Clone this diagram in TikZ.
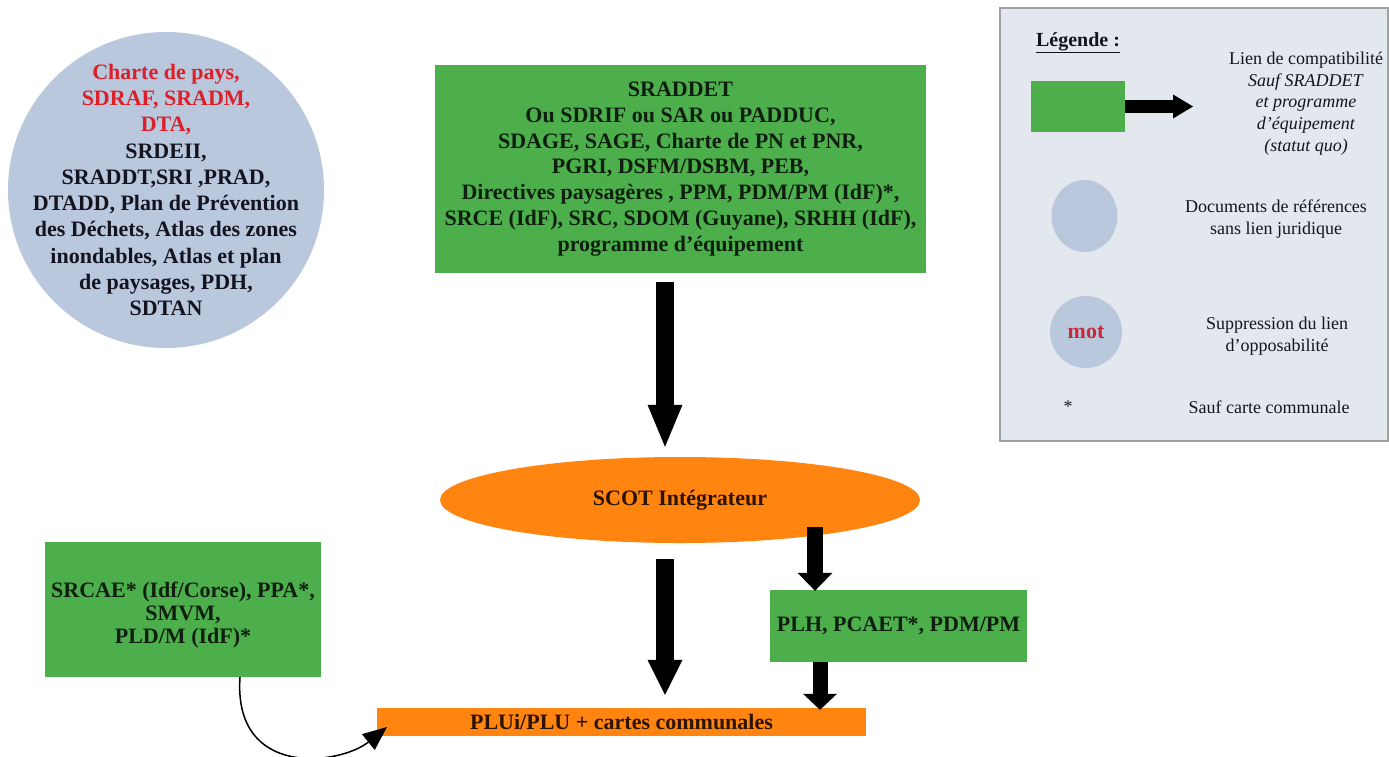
\documentclass[tikz,border=0pt]{standalone}
\usepackage{fontspec}
\setmainfont{Liberation Serif}[BoldFont={Liberation Serif Bold},ItalicFont={Liberation Serif Italic},BoldItalicFont={Liberation Serif Bold Italic}]
\usetikzlibrary{arrows.meta,shapes.geometric}
\definecolor{boxgreen}{HTML}{4DAE4C}
\definecolor{scotorange}{HTML}{FF8410}
\definecolor{refblue}{HTML}{B9C8DD}
\definecolor{legbg}{HTML}{E3E8EF}
\definecolor{legborder}{HTML}{A0A0A0}
\definecolor{txtred}{HTML}{DD1F2A}
\definecolor{motred}{HTML}{C8283C}
\definecolor{txtdark}{HTML}{141420}
\definecolor{txtgreen}{HTML}{0F1F0F}
\definecolor{txtbrown}{HTML}{2B1300}
\begin{document}
\begin{tikzpicture}[x=1pt,y=-1pt,
  bigtxt/.style={font=\fontsize{22}{#1}\selectfont\bfseries, align=center},
  bigtxt/.default=25.8,
  legtxt/.style={font=\fontsize{18}{21.7}\selectfont, text=txtdark, align=center},
  greenbox/.style={rectangle, fill=boxgreen, inner sep=0pt, text=txtgreen},
  orangebox/.style={fill=scotorange, inner sep=0pt, text=txtbrown},
  blockarrow/.style n args={3}{draw=black, line width=#1pt,
     -{Triangle[width=#2pt,length=#3pt,line width=0pt]}},
  thinarrow/.style={draw=black, line width=1.5pt, -{Triangle[width=20pt,length=24pt]}}
]
\useasboundingbox[fill=white] (0,0) rectangle (1389,757);

% reference documents circle
\node[circle, fill=refblue, minimum size=316pt, inner sep=0pt] (refcirc) at (166,190) {};
\node[bigtxt=26.3, text=txtdark] (refcirctxt) at (refcirc.center)
  {\textcolor{txtred}{Charte de pays,}\\
   \textcolor{txtred}{SDRAF, SRADM,}\\
   \textcolor{txtred}{DTA,}\\
   SRDEII,\\
   SRADDT,SRI ,PRAD,\\
   DTADD, Plan de Prévention\\
   des Déchets, Atlas des zones\\
   inondables, Atlas et plan\\
   de paysages, PDH,\\
   SDTAN};

% SRADDET box
\node[greenbox, minimum width=491pt, minimum height=208pt, bigtxt] (sraddet) at (680.5,169)
  {SRADDET\\
   Ou SDRIF ou SAR ou PADDUC,\\
   SDAGE, SAGE, Charte de PN et PNR,\\
   PGRI, DSFM/DSBM, PEB,\\
   Directives paysagères , PPM, PDM/PM (IdF)*,\\
   SRCE (IdF), SRC, SDOM (Guyane), SRHH (IdF),\\
   programme d’équipement};

% SCOT
\node[ellipse, orangebox, minimum width=480pt, minimum height=86pt, bigtxt] (scot) at (680,500)
  {SCOT Intégrateur};

% PLH box
\node[greenbox, minimum width=257pt, minimum height=72pt, bigtxt] (plh) at (898.5,626)
  {PLH, PCAET*, PDM/PM};

% PLU bar
\node[rectangle, orangebox, minimum width=489pt, minimum height=28pt, bigtxt] (plu) at (621.5,722)
  {PLUi/PLU + cartes communales};

% SRCAE box
\node[greenbox, minimum width=276pt, minimum height=135pt] (srcae) at (183,609.5) {};
\node[bigtxt=23, text=txtgreen] (srcaetxt) at ([yshift=-6pt]srcae.center)
  {SRCAE* (Idf/Corse), PPA*,\\SMVM,\\PLD/M (IdF)*};

% arrows
\coordinate (c1) at (665,0);
\coordinate (c3) at (815,527);
\coordinate (c4) at (820,0);
\coordinate (c5) at (240,0);
\coordinate (cend) at (387,727);

\draw[blockarrow={18}{35}{42}, shorten <=9pt, shorten >=10pt]
  (sraddet.south -| c1) -- (scot.north -| c1);
\draw[blockarrow={18}{35}{35}, shorten <=16pt, shorten >=13pt]
  (scot.south -| c1) -- (plu.north -| c1);
\draw[blockarrow={16}{35}{18}, shorten >=-1pt]
  (c3) -- (plh.north -| c3);
\draw[blockarrow={15}{34}{16}, shorten >=-2pt]
  (plh.south -| c4) -- (plu.north -| c4);
\draw[thinarrow] (srcae.south -| c5) .. controls +(-7,102) and +(-47,38) .. (cend);

% legend
\node[rectangle, fill=legbg, draw=legborder, line width=1.5pt, minimum width=388pt,
      minimum height=433pt, inner sep=0pt] (legend) at (1194,224.5) {};
\node[font=\fontsize{20}{20}\selectfont\bfseries, text=txtdark] (legtitle) at (1078,43)
  {\underline{Légende :}};
\node[greenbox, minimum width=94pt, minimum height=51pt] (lgreen) at (1078,106.5) {};
\coordinate (ltip) at (1193,106);
\draw[blockarrow={13}{24}{20}] (lgreen.east) -- (lgreen.east -| ltip);
\node[legtxt] (legcompat) at (1306,103.5)
  {Lien de compatibilité\\
   \textit{Sauf SRADDET}\\
   \textit{et programme}\\
   \textit{d’équipement}\\
   \textit{(statut quo)}};

\node[ellipse, fill=refblue, minimum width=66pt, minimum height=72pt, inner sep=0pt] (lblue) at (1084.5,216) {};
\node[legtxt] (legref) at (1276,219)
  {Documents de références\\sans lien juridique};

\node[circle, fill=refblue, minimum size=72pt, inner sep=0pt,
      font=\fontsize{22}{22}\selectfont\bfseries, text=motred] (lmot) at (1086,332) {mot};
\node[legtxt] (legsupp) at (1277,336)
  {Suppression du lien\\d’opposabilité};

\node[legtxt] (legstar) at (1068,407) {*};
\node[legtxt] (legcarte) at (1269,407) {Sauf carte communale};

\end{tikzpicture}
\end{document}
